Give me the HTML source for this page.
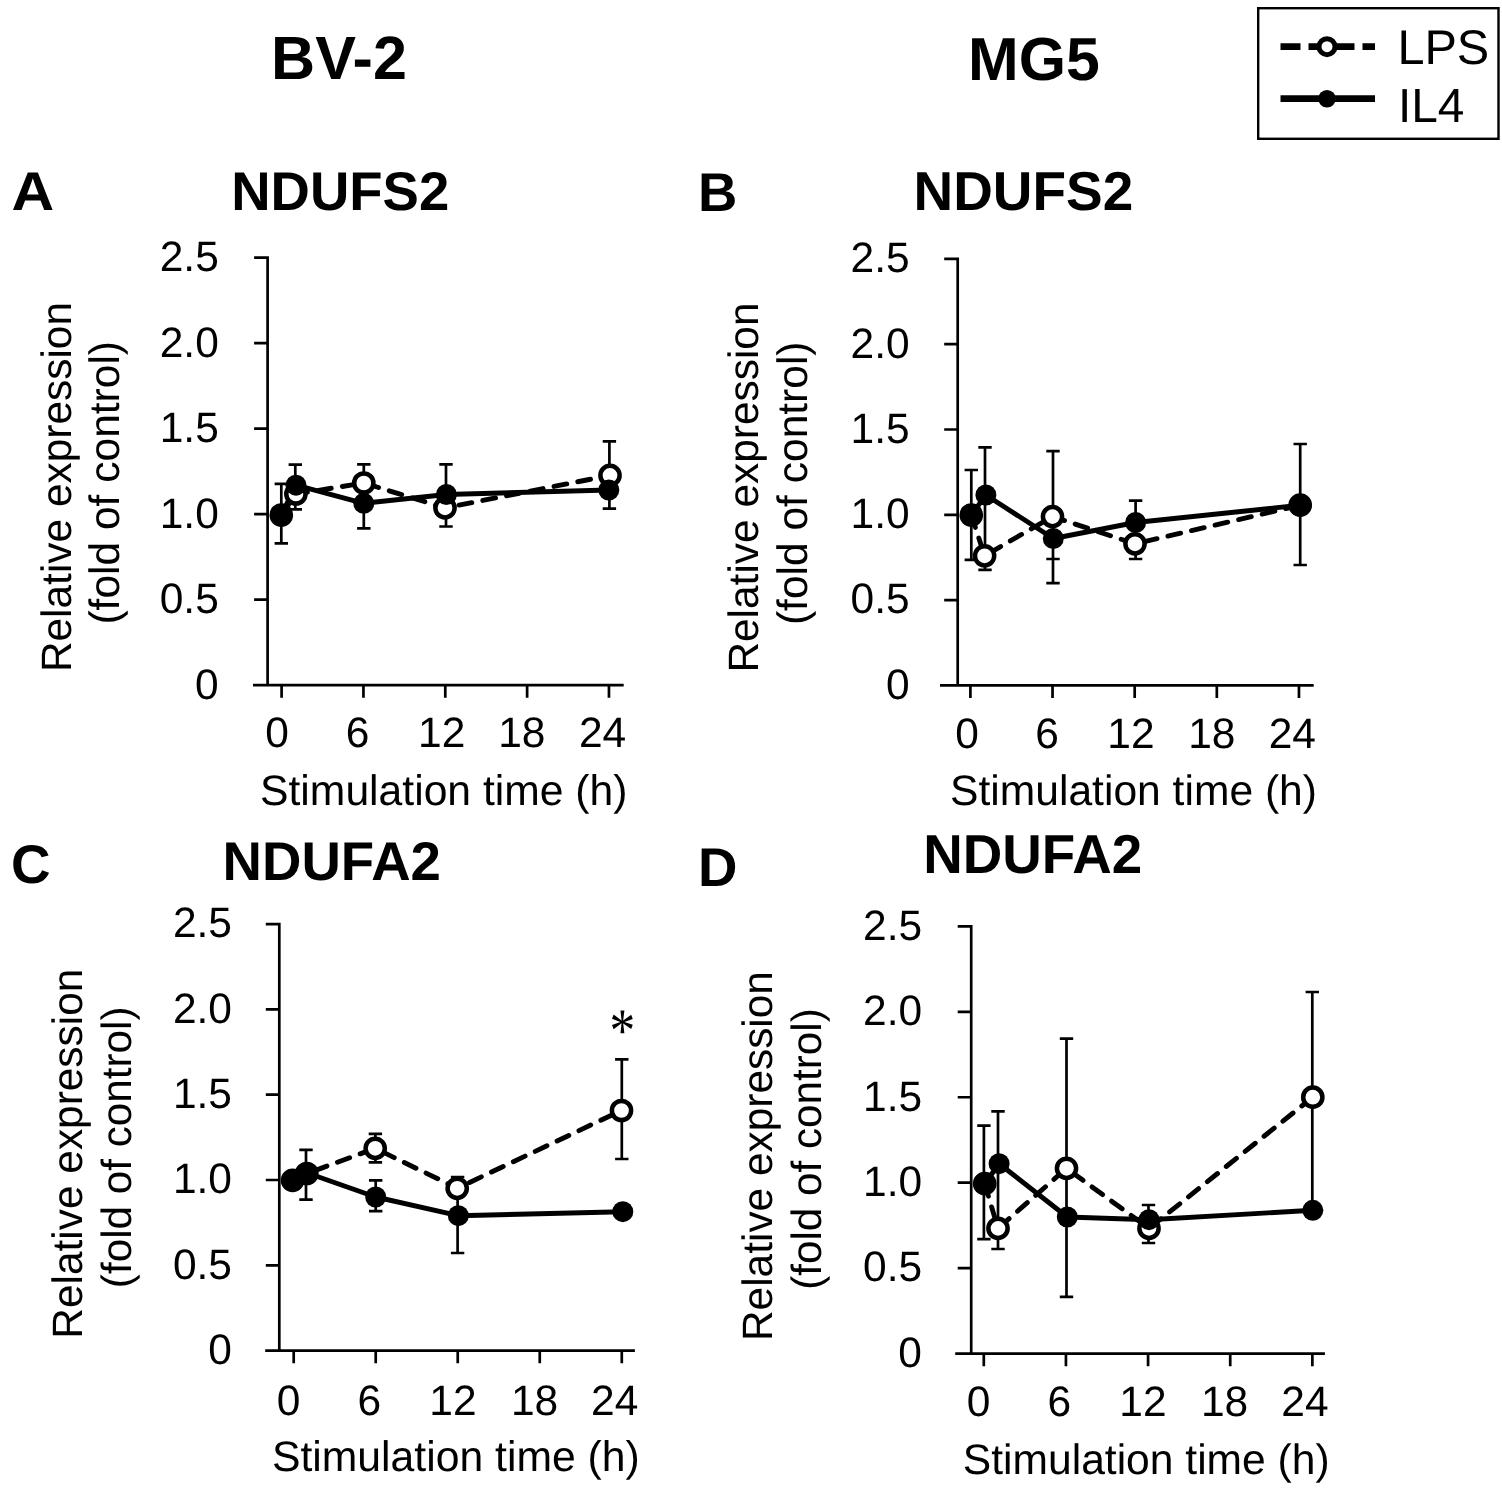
<!DOCTYPE html>
<html lang="en"><head><meta charset="utf-8"><title>Figure</title>
<style>html,body{margin:0;padding:0;background:#fff}svg{display:block}</style></head>
<body>
<svg width="1502" height="1491" viewBox="0 0 1502 1491" font-family="'Liberation Sans', Arial, Helvetica, sans-serif" fill="#000" text-rendering="geometricPrecision">
<rect width="1502" height="1491" fill="#fff"/>
<text x="271.12" y="79.40" font-size="61.09" font-weight="bold" >BV-2</text>
<text x="968.04" y="79.50" font-size="60.82" font-weight="bold" >MG5</text>
<rect x="1258.2" y="8.2" width="240.3" height="130.6" fill="none" stroke="#000" stroke-width="2.4"/>
<path d="M1280.5,46.7 H1375" stroke="#000" stroke-width="6.7" stroke-dasharray="20 8 46 8 12.5 0" fill="none"/>
<circle cx="1327" cy="46.7" r="8" fill="#fff" stroke="#000" stroke-width="5"/>
<path d="M1280.5,98.7 H1375" stroke="#000" stroke-width="6.7" fill="none"/>
<circle cx="1327" cy="98.7" r="8.8" fill="#000"/>
<text x="1397.41" y="63.70" font-size="48.58" font-weight="normal" >LPS</text>
<text x="1397.90" y="122.10" font-size="47.80" font-weight="normal" >IL4</text>
<g stroke="#000" stroke-width="2.7" fill="none" stroke-linecap="butt">
<path d="M254.10,257.70 H267.60 V685.20" stroke-linejoin="miter"/>
<path d="M253.00,685.20 H623.70"/>
<path d="M254.10,343.20 H267.60 M254.10,428.70 H267.60 M254.10,514.20 H267.60 M254.10,599.70 H267.60 M281.60,685.20 V697.80 M363.44,685.20 V697.80 M445.28,685.20 V697.80 M527.12,685.20 V697.80 M608.96,685.20 V697.80 "/>
</g>
<g stroke="#000" stroke-width="2.7" fill="none">
<path d="M281.30,483.90 V543.30 M274.60,483.90 H288.00 M274.60,543.30 H288.00 M295.30,464.70 V509.40 M288.60,464.70 H302.00 M288.60,509.40 H302.00 M363.80,464.40 V528.40 M357.10,464.40 H370.50 M357.10,528.40 H370.50 M446.00,464.40 V526.50 M439.30,464.40 H452.70 M439.30,526.50 H452.70 M609.40,441.30 V508.70 M602.70,441.30 H616.10 M602.70,508.70 H616.10 "/>
</g>
<polyline points="281.30,515.00 295.90,494.00 363.80,483.00 445.00,507.90 610.00,475.40" fill="none" stroke="#000" stroke-width="4.9" stroke-dasharray="13 11.2" stroke-linecap="round" stroke-dashoffset="0"/>
<polyline points="281.30,515.00 296.00,485.20 363.80,503.30 446.40,494.50 608.80,490.00" fill="none" stroke="#000" stroke-width="4.9" stroke-linejoin="round"/>
<circle cx="281.30" cy="515.00" r="9.6" fill="#fff" stroke="#000" stroke-width="4.5"/>
<circle cx="295.90" cy="494.00" r="9.6" fill="#fff" stroke="#000" stroke-width="4.5"/>
<circle cx="363.80" cy="483.00" r="9.6" fill="#fff" stroke="#000" stroke-width="4.5"/>
<circle cx="445.00" cy="507.90" r="9.6" fill="#fff" stroke="#000" stroke-width="4.5"/>
<circle cx="610.00" cy="475.40" r="9.6" fill="#fff" stroke="#000" stroke-width="4.5"/>
<circle cx="281.30" cy="515.00" r="10.5" fill="#000"/>
<circle cx="296.00" cy="485.20" r="10.5" fill="#000"/>
<circle cx="363.80" cy="503.30" r="10.5" fill="#000"/>
<circle cx="446.40" cy="494.50" r="10.5" fill="#000"/>
<circle cx="608.80" cy="490.00" r="10.5" fill="#000"/>
<text x="159.72" y="271.00" font-size="42.50" font-weight="normal" >2.5</text>
<text x="159.72" y="356.50" font-size="42.50" font-weight="normal" >2.0</text>
<text x="159.72" y="442.00" font-size="42.50" font-weight="normal" >1.5</text>
<text x="159.72" y="527.50" font-size="42.50" font-weight="normal" >1.0</text>
<text x="159.72" y="613.00" font-size="42.50" font-weight="normal" >0.5</text>
<text x="195.00" y="698.50" font-size="42.50" font-weight="normal" >0</text>
<text x="265.25" y="747.20" font-size="42.50" font-weight="normal" >0</text>
<text x="345.75" y="747.20" font-size="42.50" font-weight="normal" >6</text>
<text x="418.03" y="747.20" font-size="42.50" font-weight="normal" >12</text>
<text x="498.16" y="747.20" font-size="42.50" font-weight="normal" >18</text>
<text x="578.94" y="747.20" font-size="42.50" font-weight="normal" >24</text>
<text x="260.07" y="805.40" font-size="42.67" font-weight="normal" >Stimulation time (h)</text>
<text transform="translate(70.70,672.09) rotate(-90) scale(1.0000,1)" font-size="42.41" font-weight="normal">Relative expression</text>
<text transform="translate(118.60,624.55) rotate(-90) scale(1.0000,1)" font-size="42.53" font-weight="normal">(fold of control)</text>
<text x="231.19" y="209.80" font-size="54.50" font-weight="bold" >NDUFS2</text>
<text transform="translate(11.53,210.00) scale(1.0842,1)" font-size="54.50" font-weight="bold" >A</text>
<g stroke="#000" stroke-width="2.7" fill="none" stroke-linecap="butt">
<path d="M944.20,258.90 H957.70 V685.40" stroke-linejoin="miter"/>
<path d="M940.00,685.40 H1313.70"/>
<path d="M944.20,344.20 H957.70 M944.20,429.50 H957.70 M944.20,514.80 H957.70 M944.20,600.10 H957.70 M970.40,685.40 V698.00 M1052.54,685.40 V698.00 M1134.68,685.40 V698.00 M1216.82,685.40 V698.00 M1298.96,685.40 V698.00 "/>
</g>
<g stroke="#000" stroke-width="2.7" fill="none">
<path d="M971.30,470.00 V559.80 M964.60,470.00 H978.00 M964.60,559.80 H978.00 M985.00,447.40 V569.90 M978.30,447.40 H991.70 M978.30,569.90 H991.70 M1053.00,451.10 V583.20 M1046.30,451.10 H1059.70 M1046.30,583.20 H1059.70 M1135.60,500.70 V559.00 M1128.90,500.70 H1142.30 M1128.90,559.00 H1142.30 M1300.20,444.00 V565.00 M1293.50,444.00 H1306.90 M1293.50,565.00 H1306.90 M1046.30,559.00 H1059.70 "/>
</g>
<polyline points="971.30,515.00 984.60,555.80 1052.50,516.60 1135.00,543.80 1300.20,505.20" fill="none" stroke="#000" stroke-width="4.9" stroke-dasharray="13 11.2" stroke-linecap="round" stroke-dashoffset="0"/>
<polyline points="971.30,515.00 985.90,495.00 1053.30,538.50 1135.60,522.50 1300.20,505.20" fill="none" stroke="#000" stroke-width="4.9" stroke-linejoin="round"/>
<circle cx="971.30" cy="515.00" r="9.6" fill="#fff" stroke="#000" stroke-width="4.5"/>
<circle cx="984.60" cy="555.80" r="9.6" fill="#fff" stroke="#000" stroke-width="4.5"/>
<circle cx="1052.50" cy="516.60" r="9.6" fill="#fff" stroke="#000" stroke-width="4.5"/>
<circle cx="1135.00" cy="543.80" r="9.6" fill="#fff" stroke="#000" stroke-width="4.5"/>
<circle cx="1300.20" cy="505.20" r="9.6" fill="#fff" stroke="#000" stroke-width="4.5"/>
<circle cx="971.30" cy="515.00" r="10.5" fill="#000"/>
<circle cx="985.90" cy="495.00" r="10.5" fill="#000"/>
<circle cx="1053.30" cy="538.50" r="10.5" fill="#000"/>
<circle cx="1135.60" cy="522.50" r="10.5" fill="#000"/>
<circle cx="1300.20" cy="505.20" r="10.5" fill="#000"/>
<text x="850.62" y="272.20" font-size="42.50" font-weight="normal" >2.5</text>
<text x="850.62" y="357.50" font-size="42.50" font-weight="normal" >2.0</text>
<text x="850.62" y="442.80" font-size="42.50" font-weight="normal" >1.5</text>
<text x="850.62" y="528.10" font-size="42.50" font-weight="normal" >1.0</text>
<text x="850.62" y="613.40" font-size="42.50" font-weight="normal" >0.5</text>
<text x="885.90" y="698.70" font-size="42.50" font-weight="normal" >0</text>
<text x="955.25" y="748.00" font-size="42.50" font-weight="normal" >0</text>
<text x="1035.35" y="748.00" font-size="42.50" font-weight="normal" >6</text>
<text x="1107.32" y="748.00" font-size="42.50" font-weight="normal" >12</text>
<text x="1188.16" y="748.00" font-size="42.50" font-weight="normal" >18</text>
<text x="1268.64" y="748.00" font-size="42.50" font-weight="normal" >24</text>
<text x="950.07" y="805.40" font-size="42.60" font-weight="normal" >Stimulation time (h)</text>
<text transform="translate(758.20,672.59) rotate(-90) scale(1.0000,1)" font-size="42.41" font-weight="normal">Relative expression</text>
<text transform="translate(806.50,625.05) rotate(-90) scale(1.0000,1)" font-size="42.53" font-weight="normal">(fold of control)</text>
<text x="913.56" y="210.40" font-size="54.91" font-weight="bold" >NDUFS2</text>
<text transform="translate(697.89,210.50) scale(0.9986,1)" font-size="54.50" font-weight="bold" >B</text>
<g stroke="#000" stroke-width="2.7" fill="none" stroke-linecap="butt">
<path d="M265.80,924.10 H279.30 V1350.60" stroke-linejoin="miter"/>
<path d="M265.20,1350.60 H634.90"/>
<path d="M265.80,1009.40 H279.30 M265.80,1094.70 H279.30 M265.80,1180.00 H279.30 M265.80,1265.30 H279.30 M293.70,1350.60 V1363.20 M375.72,1350.60 V1363.20 M457.74,1350.60 V1363.20 M539.76,1350.60 V1363.20 M621.78,1350.60 V1363.20 "/>
</g>
<g stroke="#000" stroke-width="2.7" fill="none">
<path d="M306.00,1149.90 V1199.70 M299.30,1149.90 H312.70 M299.30,1199.70 H312.70 M375.40,1133.90 V1162.40 M368.70,1133.90 H382.10 M368.70,1162.40 H382.10 M375.70,1180.30 V1211.20 M369.00,1180.30 H382.40 M369.00,1211.20 H382.40 M457.60,1177.00 V1253.00 M450.90,1177.00 H464.30 M450.90,1253.00 H464.30 M621.80,1059.40 V1159.00 M615.10,1059.40 H628.50 M615.10,1159.00 H628.50 "/>
</g>
<polyline points="292.60,1180.30 306.80,1173.50 375.20,1148.30 457.20,1188.30 621.50,1110.50" fill="none" stroke="#000" stroke-width="4.9" stroke-dasharray="13 11.2" stroke-linecap="round" stroke-dashoffset="0"/>
<polyline points="292.60,1180.30 307.30,1173.00 375.70,1197.00 458.30,1215.70 622.80,1211.70" fill="none" stroke="#000" stroke-width="4.9" stroke-linejoin="round"/>
<circle cx="292.60" cy="1180.30" r="9.6" fill="#fff" stroke="#000" stroke-width="4.5"/>
<circle cx="306.80" cy="1173.50" r="9.6" fill="#fff" stroke="#000" stroke-width="4.5"/>
<circle cx="375.20" cy="1148.30" r="9.6" fill="#fff" stroke="#000" stroke-width="4.5"/>
<circle cx="457.20" cy="1188.30" r="9.6" fill="#fff" stroke="#000" stroke-width="4.5"/>
<circle cx="621.50" cy="1110.50" r="9.6" fill="#fff" stroke="#000" stroke-width="4.5"/>
<circle cx="292.60" cy="1180.30" r="10.5" fill="#000"/>
<circle cx="307.30" cy="1173.00" r="10.5" fill="#000"/>
<circle cx="375.70" cy="1197.00" r="10.5" fill="#000"/>
<circle cx="458.30" cy="1215.70" r="10.5" fill="#000"/>
<circle cx="622.80" cy="1211.70" r="10.5" fill="#000"/>
<text x="172.93" y="937.40" font-size="42.50" font-weight="normal" >2.5</text>
<text x="172.93" y="1022.70" font-size="42.50" font-weight="normal" >2.0</text>
<text x="172.93" y="1108.00" font-size="42.50" font-weight="normal" >1.5</text>
<text x="172.93" y="1193.30" font-size="42.50" font-weight="normal" >1.0</text>
<text x="172.93" y="1278.60" font-size="42.50" font-weight="normal" >0.5</text>
<text x="208.20" y="1363.90" font-size="42.50" font-weight="normal" >0</text>
<text x="276.75" y="1414.50" font-size="42.50" font-weight="normal" >0</text>
<text x="357.40" y="1414.50" font-size="42.50" font-weight="normal" >6</text>
<text x="429.32" y="1414.50" font-size="42.50" font-weight="normal" >12</text>
<text x="510.96" y="1414.50" font-size="42.50" font-weight="normal" >18</text>
<text x="591.09" y="1414.50" font-size="42.50" font-weight="normal" >24</text>
<text x="271.96" y="1471.00" font-size="42.71" font-weight="normal" >Stimulation time (h)</text>
<text transform="translate(82.00,1338.69) rotate(-90) scale(1.0000,1)" font-size="42.41" font-weight="normal">Relative expression</text>
<text transform="translate(130.70,1288.13) rotate(-90) scale(1.0000,1)" font-size="42.23" font-weight="normal">(fold of control)</text>
<text x="222.58" y="880.00" font-size="54.58" font-weight="bold" >NDUFA2</text>
<text transform="translate(11.11,883.00) scale(1.0049,1)" font-size="54.50" font-weight="bold" >C</text>
<g stroke="#000" stroke-width="2.7" fill="none" stroke-linecap="butt">
<path d="M957.70,926.35 H971.20 V1353.60" stroke-linejoin="miter"/>
<path d="M955.20,1353.60 H1324.90"/>
<path d="M957.70,1011.80 H971.20 M957.70,1097.25 H971.20 M957.70,1182.70 H971.20 M957.70,1268.15 H971.20 M983.80,1353.60 V1366.20 M1065.94,1353.60 V1366.20 M1148.08,1353.60 V1366.20 M1230.22,1353.60 V1366.20 M1312.36,1353.60 V1366.20 "/>
</g>
<g stroke="#000" stroke-width="2.7" fill="none">
<path d="M983.90,1125.60 V1239.10 M977.20,1125.60 H990.60 M977.20,1239.10 H990.60 M998.00,1111.30 V1249.00 M991.30,1111.30 H1004.70 M991.30,1249.00 H1004.70 M1066.50,1038.60 V1296.90 M1059.80,1038.60 H1073.20 M1059.80,1296.90 H1073.20 M1148.50,1205.00 V1243.00 M1141.80,1205.00 H1155.20 M1141.80,1243.00 H1155.20 M1312.30,992.00 V1210.00 M1305.60,992.00 H1319.00 "/>
</g>
<polyline points="984.70,1183.70 998.00,1228.40 1066.50,1168.30 1149.00,1228.40 1312.80,1097.20" fill="none" stroke="#000" stroke-width="4.9" stroke-dasharray="13 11.2" stroke-linecap="round" stroke-dashoffset="0"/>
<polyline points="984.70,1183.70 999.10,1163.70 1067.30,1217.00 1149.00,1219.70 1312.80,1210.30" fill="none" stroke="#000" stroke-width="4.9" stroke-linejoin="round"/>
<circle cx="984.70" cy="1183.70" r="9.6" fill="#fff" stroke="#000" stroke-width="4.5"/>
<circle cx="998.00" cy="1228.40" r="9.6" fill="#fff" stroke="#000" stroke-width="4.5"/>
<circle cx="1066.50" cy="1168.30" r="9.6" fill="#fff" stroke="#000" stroke-width="4.5"/>
<circle cx="1149.00" cy="1228.40" r="9.6" fill="#fff" stroke="#000" stroke-width="4.5"/>
<circle cx="1312.80" cy="1097.20" r="9.6" fill="#fff" stroke="#000" stroke-width="4.5"/>
<circle cx="984.70" cy="1183.70" r="10.5" fill="#000"/>
<circle cx="999.10" cy="1163.70" r="10.5" fill="#000"/>
<circle cx="1067.30" cy="1217.00" r="10.5" fill="#000"/>
<circle cx="1149.00" cy="1219.70" r="10.5" fill="#000"/>
<circle cx="1312.80" cy="1210.30" r="10.5" fill="#000"/>
<text x="863.02" y="939.65" font-size="42.50" font-weight="normal" >2.5</text>
<text x="863.02" y="1025.10" font-size="42.50" font-weight="normal" >2.0</text>
<text x="863.02" y="1110.55" font-size="42.50" font-weight="normal" >1.5</text>
<text x="863.02" y="1196.00" font-size="42.50" font-weight="normal" >1.0</text>
<text x="863.02" y="1281.45" font-size="42.50" font-weight="normal" >0.5</text>
<text x="898.30" y="1366.90" font-size="42.50" font-weight="normal" >0</text>
<text x="966.75" y="1415.60" font-size="42.50" font-weight="normal" >0</text>
<text x="1047.40" y="1415.60" font-size="42.50" font-weight="normal" >6</text>
<text x="1119.33" y="1415.60" font-size="42.50" font-weight="normal" >12</text>
<text x="1200.96" y="1415.60" font-size="42.50" font-weight="normal" >18</text>
<text x="1281.34" y="1415.60" font-size="42.50" font-weight="normal" >24</text>
<text x="962.87" y="1473.80" font-size="42.59" font-weight="normal" >Stimulation time (h)</text>
<text transform="translate(772.00,1340.99) rotate(-90) scale(1.0000,1)" font-size="42.40" font-weight="normal">Relative expression</text>
<text transform="translate(820.70,1289.83) rotate(-90) scale(1.0000,1)" font-size="42.23" font-weight="normal">(fold of control)</text>
<text x="923.17" y="873.30" font-size="54.76" font-weight="bold" >NDUFA2</text>
<text transform="translate(697.88,885.60) scale(1.0017,1)" font-size="54.50" font-weight="bold" >D</text>
<text transform="translate(609.5,1050.7) scale(1,1.2)" font-family="'Liberation Serif', 'Times New Roman', serif" font-size="51.5">*</text>
</svg>
</body></html>
